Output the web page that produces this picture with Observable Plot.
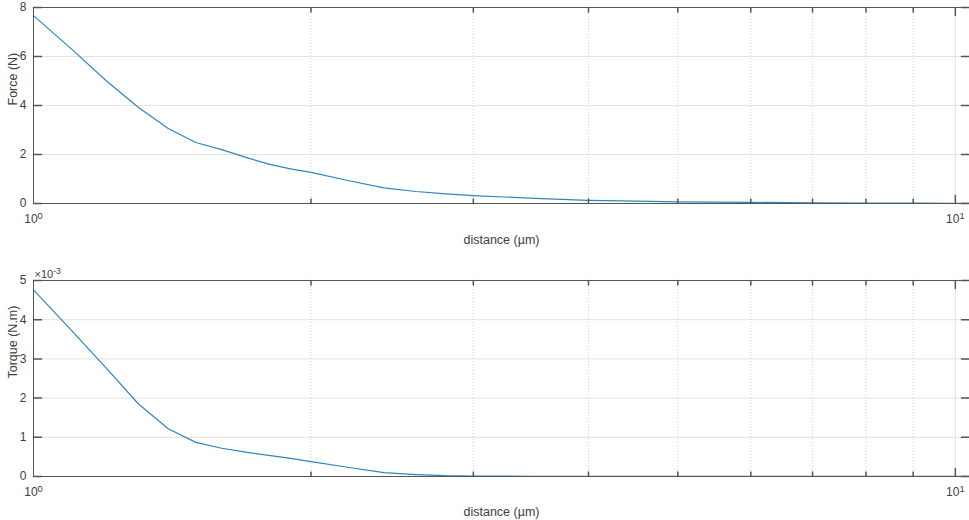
<!DOCTYPE html>
<html>
<head>
<meta charset="utf-8">
<script src="https://cdn.jsdelivr.net/npm/d3@7"></script>
<script src="https://cdn.jsdelivr.net/npm/@observablehq/plot@0.6"></script>
<style>
  html, body { margin: 0; padding: 0; background: #fff; }
  #chart { width: 969px; height: 520px; }
  svg { display: block; }
</style>
</head>
<body>
<div id="chart"></div>
<script>
// ---- data ----
const distance = [1, 1.1, 1.2, 1.3, 1.4, 1.5, 1.6, 1.7, 1.8, 1.9, 2, 2.2, 2.4, 2.6, 2.8, 3, 3.5, 4, 4.5, 5, 6, 7, 8, 9, 10, 10.36];
const force = [7.67, 6.3, 5.0, 3.92, 3.06, 2.49, 2.2, 1.88, 1.61, 1.41, 1.27, 0.93, 0.64, 0.49, 0.39, 0.32, 0.21, 0.13, 0.1, 0.07, 0.045, 0.03, 0.02, 0.015, 0.01, 0.01];
// torque in units of 1e-3 N.m
const torqueE3 = [4.76, 3.72, 2.76, 1.85, 1.22, 0.87, 0.72, 0.62, 0.54, 0.46, 0.38, 0.23, 0.1, 0.05, 0.02, 0.01, 0.005, 0.003, 0.002, 0.002, 0.001, 0.001, 0.001, 0.001, 0.001, 0.001];

const xDomain = [1, 10.36];
const xMajor = [1, 10];
const xMinor = [2, 3, 4, 5, 6, 7, 8, 9];
const forceTicks = [0, 2, 4, 6, 8];
const torqueTicks = [0, 1, 2, 3, 4, 5];
const xLabel = "distance (\u00b5m)";
const forceLabel = "Force (N)";
const torqueLabel = "Torque (N.m)";
const torqueExponent = "\u00d710^-3";

const lineColor = "#2f84c0";
const axisColor = "#555555";
const gridColor = "#e2e2e2";

const tickShape = { draw(ctx, l) { ctx.moveTo(0, 0); ctx.lineTo(0, -l); } };

function superscript(svg) {
  svg.querySelectorAll("text").forEach(t => {
    if (t.children.length) return;
    const s = t.textContent;
    if (!s.includes("^")) return;
    const [base, exp] = s.split("^");
    t.textContent = base;
    const ts = document.createElementNS("http://www.w3.org/2000/svg", "tspan");
    ts.setAttribute("dy", "-0.45em");
    ts.setAttribute("font-size", "0.78em");
    ts.textContent = exp;
    t.appendChild(ts);
  });
}

function panel({ values, yDomain, yTicks, yLabel, height, marginTop, marginBottom, xLabelDy, extra = [] }) {
  const data = distance.map((d, i) => ({ d, v: values[i] }));
  const yTop = yDomain[1];
  const svg = Plot.plot({
    width: 969,
    height,
    marginLeft: 33,
    marginRight: 0,
    marginTop,
    marginBottom,
    style: { fontFamily: "'Liberation Sans', Arial, Helvetica, sans-serif", fontSize: "12px", color: "#404040", background: "white", overflow: "visible" },
    x: { type: "log", domain: xDomain },
    y: { domain: yDomain },
    marks: [
      Plot.ruleY(yTicks.filter(t => t !== yDomain[0] && t !== yTop), { stroke: gridColor, strokeWidth: 1 }),
      Plot.ruleX(xMinor, { stroke: "#cfcfcf", strokeWidth: 1, strokeDasharray: "1,2" }),
      Plot.ruleX([10], { stroke: gridColor, strokeWidth: 1 }),
      Plot.line(data, { x: "d", y: "v", stroke: lineColor, strokeWidth: 1.2 }),
      Plot.ruleY([yDomain[0], yTop], { stroke: axisColor, strokeWidth: 1 }),
      Plot.ruleX([xDomain[0]], { stroke: axisColor, strokeWidth: 1 }),
      Plot.vector(xMinor, { x: d => d, frameAnchor: "bottom", length: 4.5, rotate: 0, anchor: "start", shape: tickShape, stroke: axisColor }),
      Plot.vector([10], { x: d => d, frameAnchor: "bottom", length: 8, rotate: 0, anchor: "start", shape: tickShape, stroke: axisColor }),
      Plot.vector(xMinor, { x: d => d, frameAnchor: "top", length: 4.5, rotate: 180, anchor: "start", shape: tickShape, stroke: axisColor }),
      Plot.vector([10], { x: d => d, frameAnchor: "top", length: 8, rotate: 180, anchor: "start", shape: tickShape, stroke: axisColor }),
      Plot.vector(yTicks, { y: d => d, frameAnchor: "left", length: 8, rotate: 90, anchor: "start", shape: tickShape, stroke: axisColor }),
      Plot.vector(yTicks, { y: d => d, frameAnchor: "right", length: 8, rotate: -90, anchor: "start", shape: tickShape, stroke: axisColor }),
      Plot.axisY({ ticks: yTicks, tickSize: 0, tickPadding: 7, label: null, tickFormat: d => String(d), fontSize: 12 }),
      Plot.axisX({ ticks: xMajor, tickSize: 0, tickPadding: 11, label: null, tickFormat: d => "10^" + Math.round(Math.log10(d)), fontSize: 12 }),
      Plot.text([xLabel], { text: d => d, frameAnchor: "bottom", dy: xLabelDy, lineAnchor: "middle", fontSize: 12.5 }),
      Plot.text([yLabel], { text: d => d, frameAnchor: "left", rotate: -90, dx: -21, lineAnchor: "middle", fontSize: 12.5 }),
      ...extra
    ]
  });
  superscript(svg);
  return svg;
}

const topPanel = panel({
  values: force, yDomain: [0, 8], yTicks: forceTicks, yLabel: forceLabel,
  height: 260, marginTop: 7, marginBottom: 57, xLabelDy: 36
});

const bottomPanel = panel({
  values: torqueE3, yDomain: [0, 5], yTicks: torqueTicks, yLabel: torqueLabel,
  height: 260, marginTop: 20, marginBottom: 44, xLabelDy: 35,
  extra: [Plot.text([torqueExponent], { text: d => d, frameAnchor: "top-left", textAnchor: "start", lineAnchor: "bottom", dy: -3, dx: 1, fontSize: 11 })]
});

const chart = document.getElementById("chart");
chart.appendChild(topPanel);
chart.appendChild(bottomPanel);
</script>
</body>
</html>
